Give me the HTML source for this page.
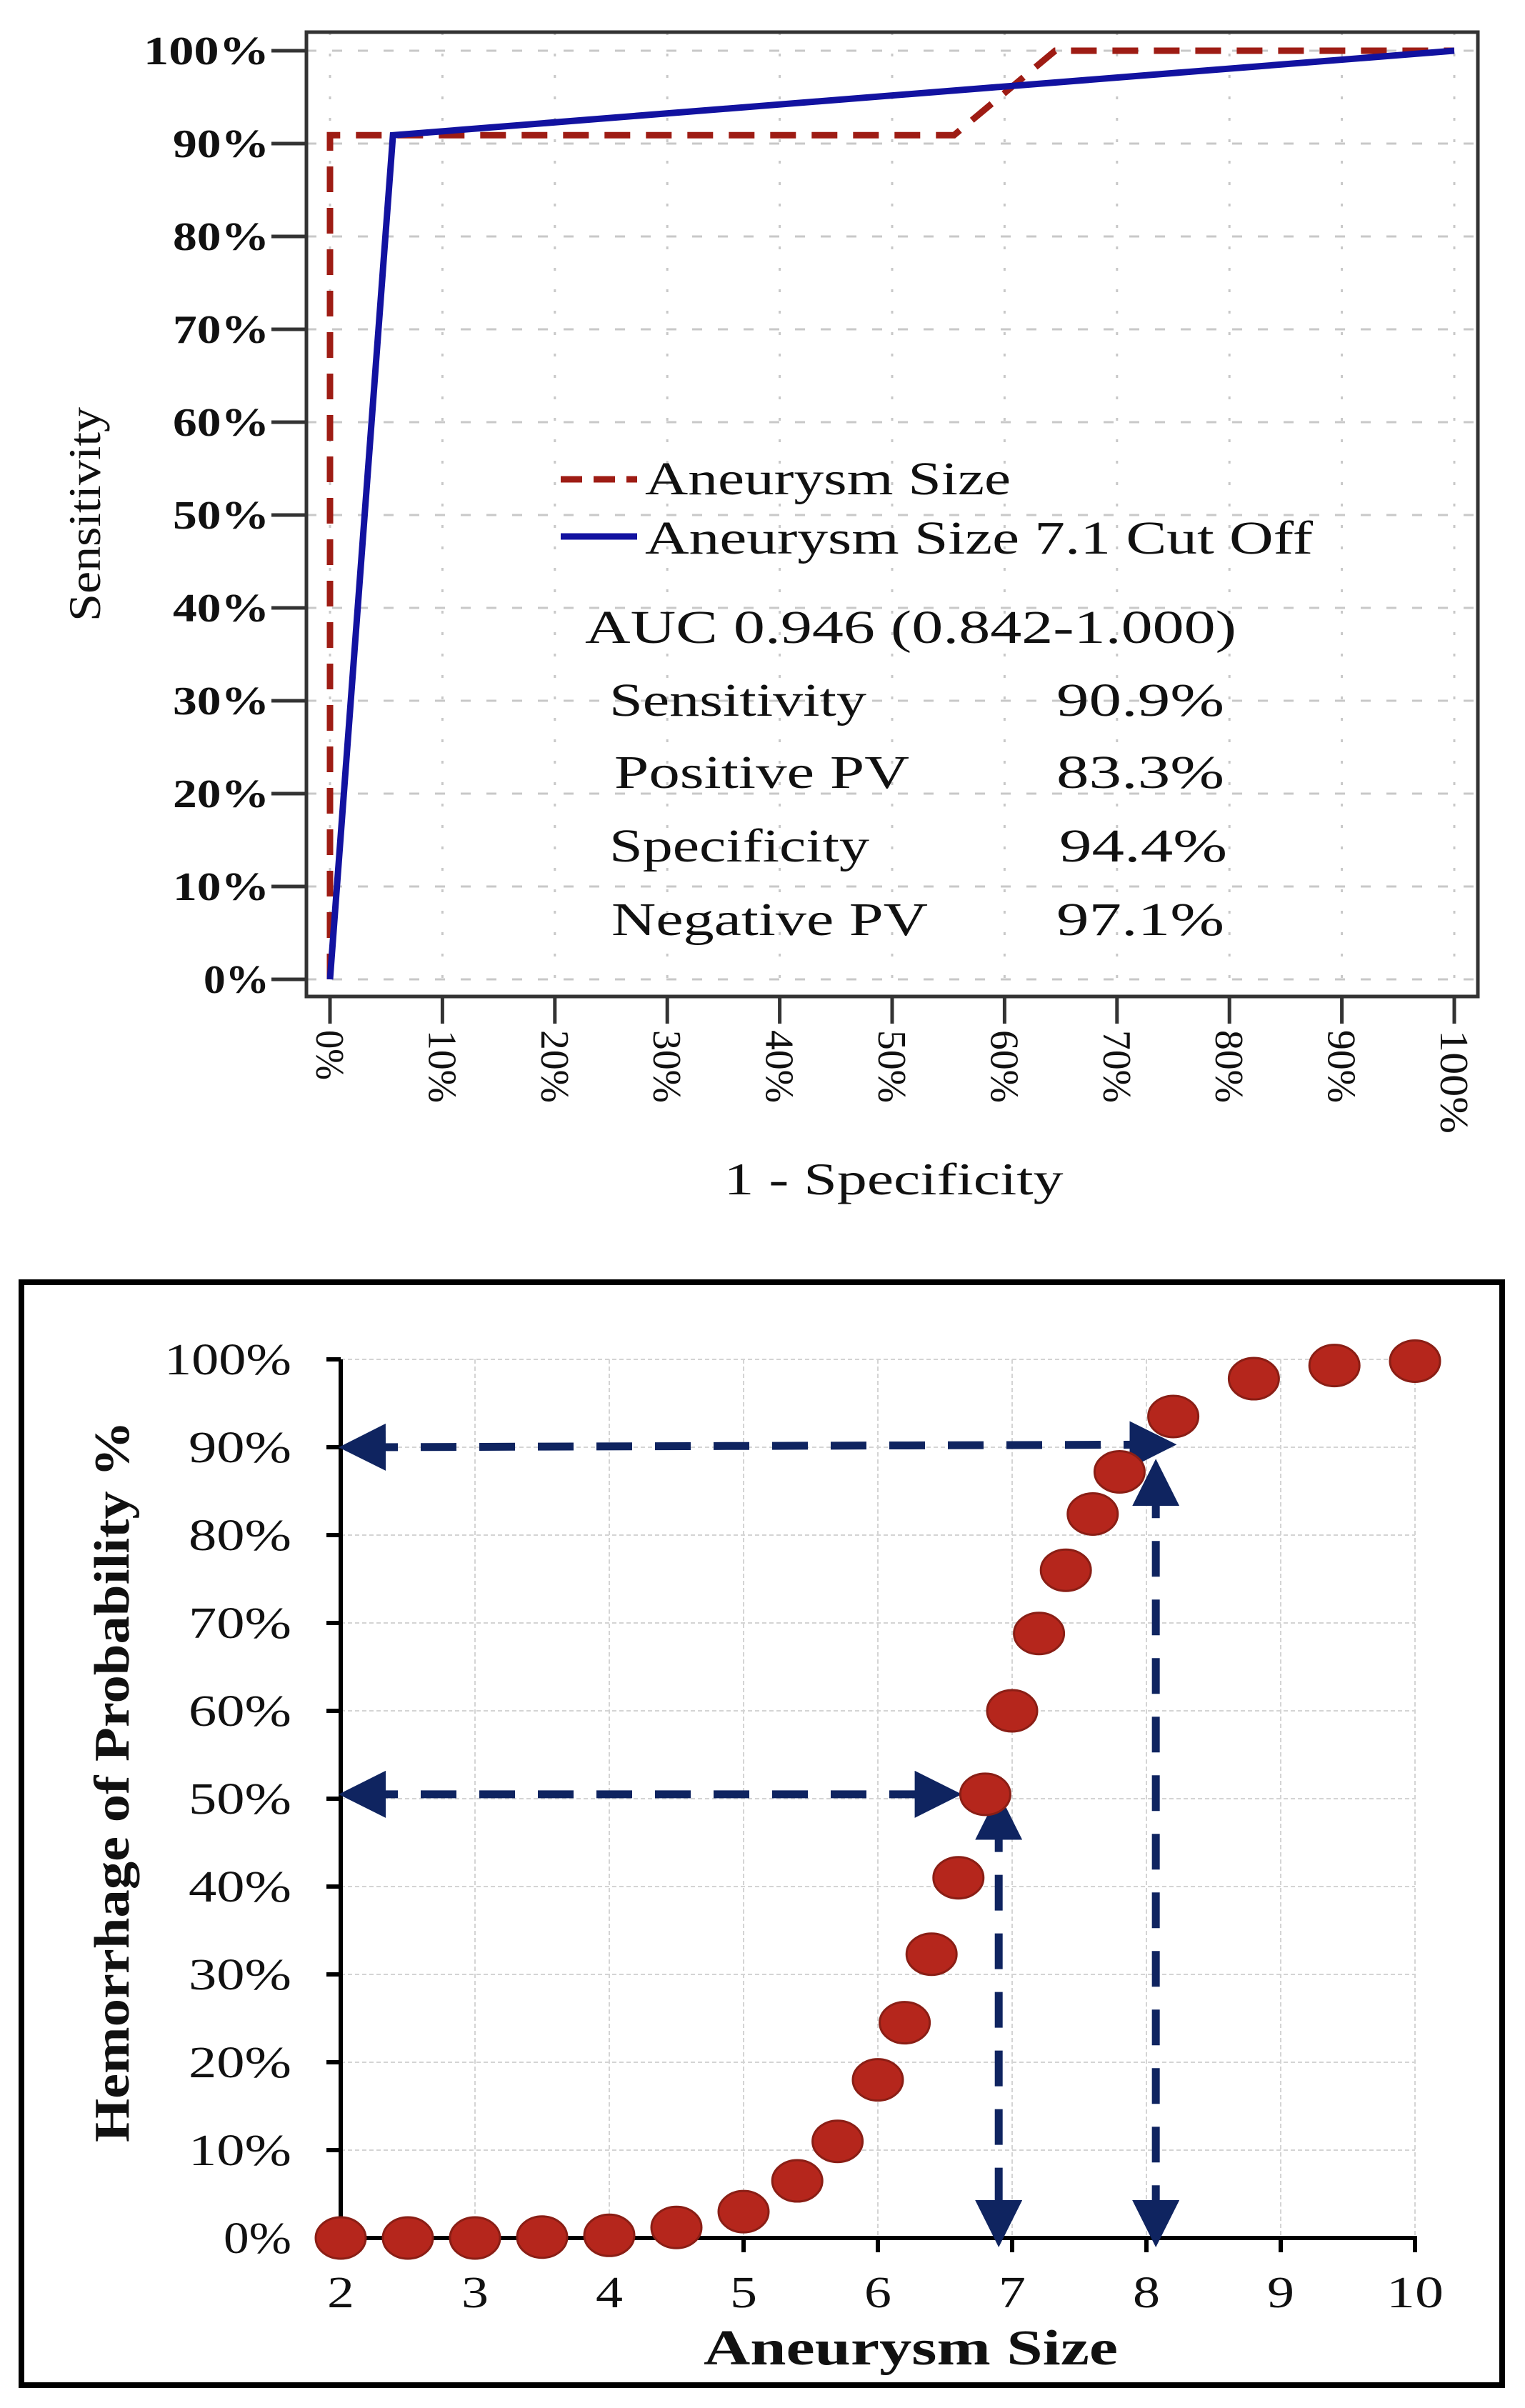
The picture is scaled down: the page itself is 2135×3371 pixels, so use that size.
<!DOCTYPE html>
<html><head><meta charset="utf-8"><style>
html,body{margin:0;padding:0;background:#fff;}
svg{display:block;}
text{font-family:"Liberation Serif",serif;fill:#111;}
</style></head><body>
<svg id="svg" width="2135" height="3371" viewBox="0 0 2135 3371" xmlns="http://www.w3.org/2000/svg">
<defs>
<marker id="ah" viewBox="0 0 10 10" refX="5" refY="5" markerWidth="6" markerHeight="6" orient="auto-start-reverse" markerUnits="strokeWidth"><path d="M0,0 L10,5 L0,10 z" fill="#0f2460"/></marker>
</defs>
<g id="top"></g>
<g id="bot"></g>
</svg>
<script>
// ROC chart data
const rocTicks = [0,10,20,30,40,50,60,70,80,90,100];
const sizeFPR = [0,0,0.555,0.645,1];
const sizeTPR = [0,0.909,0.909,1,1];
const cutFPR = [0,0.056,1];
const cutTPR = [0,0.909,1];
// probability chart data
const xTicks = [2,3,4,5,6,7,8,9,10];
const yTicks = [0,10,20,30,40,50,60,70,80,90,100];
const sizes = [2,2.5,3,3.5,4,4.5,5,5.4,5.7,6,6.2,6.4,6.6,6.8,7,7.2,7.4,7.6,7.8,8.2,8.8,9.4,10];
const probs = [0,0,0,0.1,0.3,1.2,3,6.5,11,18,24.5,32.3,41,50.5,60,68.8,76,82.4,87.2,93.5,97.8,99.3,99.8];

const NS="http://www.w3.org/2000/svg";
function mk(parent,tag,attrs,txt){const e=document.createElementNS(NS,tag);for(const k in attrs)e.setAttribute(k,attrs[k]);if(txt!==undefined)e.textContent=txt;parent.appendChild(e);return e;}

// ---------- TOP ----------
const T=document.getElementById('top');
const sx=v=>462+v*1574, sy=v=>1371-v*1300;
rocTicks.forEach(t=>{
  const g1=mk(T,'line',{x1:sx(t/100),x2:sx(t/100),y1:45,y2:1395,stroke:'#c8c8c8','stroke-width':3,'stroke-dasharray':'4 26'});
  
  
  const g2=mk(T,'line',{x1:429,x2:2069,y1:sy(t/100),y2:sy(t/100),stroke:'#c8c8c8','stroke-width':3,'stroke-dasharray':'14 22'});
  
  
});
const box=mk(T,'rect',{x:429,y:45,width:1640,height:1350,fill:'none',stroke:'#333','stroke-width':5});


rocTicks.forEach(t=>{
  const y=sy(t/100);
  const tk=mk(T,'line',{x1:380,x2:429,y1:y,y2:y,stroke:'#333','stroke-width':5});
  
  
  const s=t+'%';
  const lb=mk(T,'text',{x:377,y:y+19,'text-anchor':'end','font-size':56,'font-weight':'bold',textLength:s.length===4?176:(s.length===3?135:92),lengthAdjust:'spacingAndGlyphs'},s);
  
  
  const x=sx(t/100);
  const tx=mk(T,'line',{x1:x,x2:x,y1:1395,y2:1433,stroke:'#333','stroke-width':5});
  
  
  const xl=mk(T,'text',{x:0,y:0,'font-size':56,transform:`translate(${x-19},1442) rotate(90)`,textLength:s.length===4?145:(s.length===3?102:70),lengthAdjust:'spacingAndGlyphs'},s);
  
  
});
function pts(xs,ys){return xs.map((v,i)=>sx(v)+','+sy(ys[i])).join(' ');}
const l1=mk(T,'polyline',{points:pts(sizeFPR,sizeTPR),fill:'none',stroke:'#9e1c14','stroke-width':9,'stroke-dasharray':'36 22'});


const l2=mk(T,'polyline',{points:pts(cutFPR,cutTPR),fill:'none',stroke:'#1212a0','stroke-width':9,'stroke-linejoin':'miter'});


const yt=mk(T,'text',{x:0,y:0,'font-size':64,'text-anchor':'middle',transform:'translate(140,720) rotate(-90)',textLength:300,lengthAdjust:'spacingAndGlyphs'},'Sensitivity');


const xt=mk(T,'text',{x:1251,y:1672,'font-size':64,'text-anchor':'middle',textLength:475,lengthAdjust:'spacingAndGlyphs'},'1 - Specificity');


const lg1=mk(T,'line',{x1:785,x2:892,y1:671,y2:671,stroke:'#9e1c14','stroke-width':9,'stroke-dasharray':'30 16'});


const lg2=mk(T,'line',{x1:785,x2:892,y1:751,y2:751,stroke:'#1212a0','stroke-width':9});


const texts=[
 ['legend-entry-size','Aneurysm Size',903,692,512],
 ['legend-entry-cutoff','Aneurysm Size 7.1 Cut Off',903,775,935],
 ['auc-label','AUC 0.946 (0.842-1.000)',819,900,912],
 ['sensitivity-label','Sensitivity',853,1002,360],
 ['sensitivity-value','90.9%',1479,1002,235],
 ['ppv-label','Positive PV',860,1103,413],
 ['ppv-value','83.3%',1479,1103,235],
 ['specificity-label','Specificity',853,1206,364],
 ['specificity-value','94.4%',1483,1206,235],
 ['npv-label','Negative PV',856,1309,443],
 ['npv-value','97.1%',1479,1309,235]];
texts.forEach(a=>{
  const e=mk(T,'text',{x:a[2],y:a[3],'font-size':66,textLength:a[4],lengthAdjust:'spacingAndGlyphs'},a[1]);
  
  
});

// ---------- BOTTOM ----------
const B=document.getElementById('bot');
const bx=v=>477+(v-2)*188, by=p=>3133-p*12.3;
const fr=mk(B,'rect',{x:30,y:1795,width:2073,height:1544,fill:'none',stroke:'#000','stroke-width':8});


xTicks.forEach(v=>{
  if(v>2){const g=mk(B,'line',{x1:bx(v),x2:bx(v),y1:by(100),y2:by(0),stroke:'#d4d4d4','stroke-width':2,'stroke-dasharray':'6 4'});
  
  }
});
yTicks.forEach(p=>{
  if(p>0){const g=mk(B,'line',{x1:bx(2),x2:bx(10),y1:by(p),y2:by(p),stroke:'#d4d4d4','stroke-width':2,'stroke-dasharray':'6 4'});
  
  }
});
const ya=mk(B,'line',{x1:bx(2),x2:bx(2),y1:by(100),y2:by(0)+3,stroke:'#000','stroke-width':6});


const xa=mk(B,'line',{x1:bx(2)-3,x2:bx(10)+3,y1:by(0),y2:by(0),stroke:'#000','stroke-width':6});


yTicks.forEach(p=>{
  const tk=mk(B,'line',{x1:bx(2)-20,x2:bx(2),y1:by(p),y2:by(p),stroke:'#000','stroke-width':6});
  
  
  const s=p+'%';
  const lb=mk(B,'text',{x:408,y:by(p)+21,'text-anchor':'end','font-size':62,textLength:s.length===4?178:(s.length===3?144:95),lengthAdjust:'spacingAndGlyphs'},s);
  
  
});
xTicks.forEach(v=>{
  const tk=mk(B,'line',{x1:bx(v),x2:bx(v),y1:by(0),y2:by(0)+20,stroke:'#000','stroke-width':6});
  
  
  const s=String(v);
  const lb=mk(B,'text',{x:bx(v),y:3230,'text-anchor':'middle','font-size':62,textLength:s.length===2?80:38,lengthAdjust:'spacingAndGlyphs'},s);
  
  
});
// guide arrows
const arrows=[[bx(2)+30,by(90),bx(8.05),by(90.3)],[bx(2)+30,by(50.5),bx(6.45),by(50.5)],[bx(6.9),by(48),bx(6.9),by(0)-20],[bx(8.07),by(86),bx(8.07),by(0)-20]];
arrows.forEach(a=>{
  const e=mk(B,'line',{x1:a[0],y1:a[1],x2:a[2],y2:a[3],stroke:'#0f2460','stroke-width':11,'stroke-dasharray':'50 32','marker-start':'url(#ah)','marker-end':'url(#ah)'});
  
  
});
sizes.forEach((s,i)=>{
  const d=mk(B,'ellipse',{cx:bx(s),cy:by(probs[i]),rx:35,ry:29,fill:'#b5261c',stroke:'#8a1e15','stroke-width':3});
  
  
});
const bxt=mk(B,'text',{x:1275,y:3310,'text-anchor':'middle','font-size':70,'font-weight':'bold',textLength:580,lengthAdjust:'spacingAndGlyphs'},'Aneurysm Size');


const byt=mk(B,'text',{x:0,y:0,'text-anchor':'middle','font-size':70,'font-weight':'bold',transform:'translate(180,2494) rotate(-90)',textLength:1010,lengthAdjust:'spacingAndGlyphs'},'Hemorrhage of Probability %');


</script>
</body></html>
